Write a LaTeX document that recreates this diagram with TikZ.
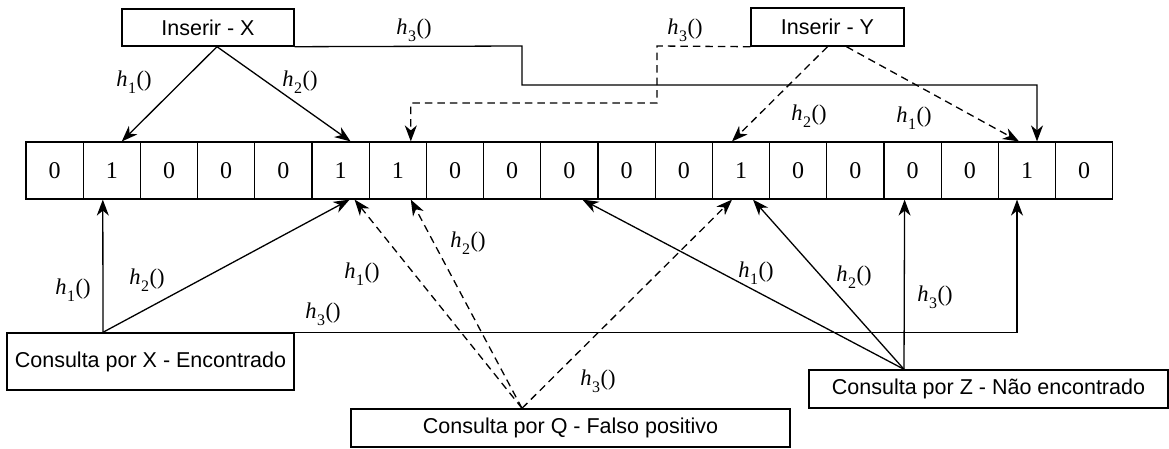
\documentclass[tikz,border=0pt]{standalone}
\usepackage{fontspec}
\setmainfont{Liberation Serif}
\newfontfamily\boxfont{Liberation Sans}
\usetikzlibrary{arrows.meta}
% hash-function label h_i()
\newcommand\hlab[1]{\textit{h}\kern0.3pt\raisebox{-0.3em}{\fontsize{16}{16}\selectfont #1}\kern0.5pt()}
\tikzset{
  cell/.style={draw, line width=1.2pt, minimum width=57.2pt, minimum height=57pt,
    inner sep=0pt, font=\fontsize{24}{24}\selectfont},
  opbox/.style={draw, line width=1.4pt, inner sep=0pt, font=\boxfont\fontsize{21.5}{21.5}\selectfont},
  conn/.style={line width=1.3pt},
  arr/.style={conn, -{Stealth[length=16pt, width=12pt, inset=5pt]}},
  dsh/.style={dash pattern=on 7.5pt off 5pt},
  lab/.style={inner sep=0pt, font=\fontsize{22.5}{22.5}\selectfont},
}
\begin{document}
\begin{tikzpicture}[x=1pt, y=-1pt]
\useasboundingbox (0,0) rectangle (1169,448);

% the bit array
\foreach \v [count=\n from 0] in {0,1,0,0,0,1,1,0,0,0,0,0,1,0,0,0,0,1,0}
  \node[cell] (c\n) at ({26+57.2*(\n+0.5)}, 170.5) {\v};

% operation boxes
\node[opbox, minimum width=172pt, minimum height=37pt] (ix) at (208, 27.5) {Inserir - X};
\node[opbox, minimum width=153pt, minimum height=38pt] (iy) at (827.5, 27) {Inserir - Y};
\node[opbox, minimum width=287pt, minimum height=57pt] (cx) at (150.5, 361.5) {Consulta por X - Encontrado};
\node[opbox, minimum width=439pt, minimum height=38pt] (cq) at (570.5, 428) {Consulta por Q - Falso positivo};
\node[opbox, minimum width=359pt, minimum height=38pt] (cz) at (988.5, 389) {Consulta por Z - Não encontrado};

% start points and bends
\coordinate (xa) at ([xshift=9pt]ix.south);
\coordinate (xb1) at (522, 46);
\coordinate (xb2) at (522, 85);
\coordinate (ya) at ([xshift=19pt]iy.south);
\coordinate (yb1) at (657, 46);
\coordinate (yb2) at (657, 103);
\coordinate (xs) at ([xshift=-47.5pt]cx.north);
\coordinate (qs) at ([xshift=-48.5pt]cq.north);
\coordinate (zs) at ([xshift=-84.5pt]cz.north);

% insertion of X
\draw[arr] (xa) -- ([xshift=10pt]c1.north);
\draw[arr] (xa) -- ([xshift=10pt]c5.north);
\draw[arr] (ix.south east) -- (xb1) -- (xb2) -| ([xshift=10pt]c17.north);

% insertion of Y
\draw[arr, dsh] (iy.south) -- ([xshift=-9pt]c12.north);
\draw[arr, dsh] (ya) -- ([xshift=-8pt]c17.north);
\draw[arr, dsh] (iy.south west) -- (yb1) -- (yb2) -| ([xshift=13pt]c6.north);

% query for X
\draw[arr] (xs) -- ([xshift=-9pt]c1.south);
\draw[arr] (xs) -- ([xshift=9pt]c5.south);
\draw[arr] (xs) -| ([xshift=-10pt]c17.south);

% query for Q
\draw[arr, dsh] (qs) -- ([xshift=14pt]c5.south);
\draw[arr, dsh] (qs) -- ([xshift=13pt]c6.south);
\draw[arr, dsh] (qs) -- ([xshift=-9pt]c12.south);

% query for Z
\draw[arr] (zs) -- ([xshift=13pt]c9.south);
\draw[arr] (zs) -- ([xshift=12pt]c12.south);
\draw[arr] (zs) -- ([xshift=-8pt]c15.south);

% labels
\node[lab] (l1) at (414, 30) {\hlab{3}};
\node[lab] (l2) at (134, 82) {\hlab{1}};
\node[lab] (l3) at (300, 82) {\hlab{2}};
\node[lab] (l4) at (685, 30) {\hlab{3}};
\node[lab] (l5) at (809, 116) {\hlab{2}};
\node[lab] (l6) at (914, 118) {\hlab{1}};
\node[lab] (l7) at (73, 290) {\hlab{1}};
\node[lab] (l8) at (147, 280) {\hlab{2}};
\node[lab] (l9) at (323, 314) {\hlab{3}};
\node[lab] (l10) at (362, 274) {\hlab{1}};
\node[lab] (l11) at (468, 243) {\hlab{2}};
\node[lab] (l12) at (598, 381) {\hlab{3}};
\node[lab] (l13) at (756, 273) {\hlab{1}};
\node[lab] (l14) at (854, 277) {\hlab{2}};
\node[lab] (l15) at (935, 297) {\hlab{3}};
\end{tikzpicture}
\end{document}
